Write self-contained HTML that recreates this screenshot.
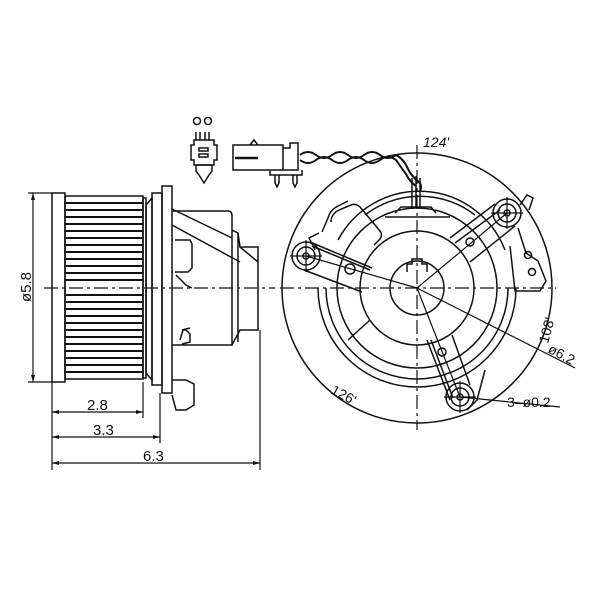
<!DOCTYPE html>
<html><head><meta charset="utf-8"><style>
html,body{margin:0;padding:0;background:#fff;}
svg{display:block;}
text{font-family:"Liberation Sans",sans-serif;fill:#111;}
</style></head><body>
<svg width="600" height="600" viewBox="0 0 600 600" xmlns="http://www.w3.org/2000/svg">
<g fill="none" stroke="#111" stroke-width="1.5">
<!-- ===== LEFT SIDE VIEW ===== -->
<rect x="52" y="193" width="13" height="189"/>
<rect x="65" y="196" width="78" height="183"/>
<g stroke-width="2">
<line x1="65" y1="203" x2="143" y2="203"/><line x1="65" y1="210" x2="143" y2="210"/>
<line x1="65" y1="217" x2="143" y2="217"/><line x1="65" y1="224" x2="143" y2="224"/>
<line x1="65" y1="231" x2="143" y2="231"/><line x1="65" y1="238" x2="143" y2="238"/>
<line x1="65" y1="245" x2="143" y2="245"/><line x1="65" y1="252" x2="143" y2="252"/>
<line x1="65" y1="259" x2="143" y2="259"/><line x1="65" y1="266" x2="143" y2="266"/>
<line x1="65" y1="273" x2="143" y2="273"/><line x1="65" y1="280" x2="143" y2="280"/>
<line x1="65" y1="295" x2="143" y2="295"/><line x1="65" y1="302" x2="143" y2="302"/>
<line x1="65" y1="309" x2="143" y2="309"/><line x1="65" y1="316" x2="143" y2="316"/>
<line x1="65" y1="323" x2="143" y2="323"/><line x1="65" y1="330" x2="143" y2="330"/>
<line x1="65" y1="337" x2="143" y2="337"/><line x1="65" y1="344" x2="143" y2="344"/>
<line x1="65" y1="351" x2="143" y2="351"/><line x1="65" y1="358" x2="143" y2="358"/>
<line x1="65" y1="365" x2="143" y2="365"/><line x1="65" y1="372" x2="143" y2="372"/>
</g>
<rect x="143" y="198" width="3" height="180"/>
<path d="M146 205 L152 198 L152 380 L146 373 Z"/>
<rect x="152" y="193" width="10" height="192"/>
<rect x="162" y="186" width="10" height="207"/>
<path d="M172 211 L228 211 Q232 211 232 216 L232 230 L238 233 L240 247 L258 247 L258 330 L240 330 L232 345 L172 345"/>
<line x1="232" y1="230" x2="232" y2="345"/>
<line x1="238" y1="233" x2="238" y2="342"/>
<path d="M172 225 L240 262"/>
<path d="M172 209 L232 238"/>
<path d="M240 247 L258 262"/>
<path d="M175 240 L190 240 L192 244 L192 268 L188 272 L175 272"/>
<path d="M176 275 L186 285 L192 288"/>
<path d="M182 330 L190 328 M180 340 L183 330 L186 330 L190 334 L190 342 L182 344"/>
<path d="M172 380 L186 380 L194 384 L194 405 L186 410 L176 410 L172 395"/>
<line x1="44" y1="288" x2="275" y2="288" stroke-dasharray="14 4 3 4" stroke-width="1.3"/>
<g stroke-width="1.2">
<line x1="33" y1="193" x2="33" y2="382"/>
<line x1="28" y1="193" x2="52" y2="193"/>
<line x1="28" y1="382" x2="52" y2="382"/>
<line x1="52" y1="382" x2="52" y2="470"/>
<line x1="143" y1="382" x2="143" y2="418"/>
<line x1="160" y1="393" x2="160" y2="443"/>
<line x1="260" y1="330" x2="260" y2="470"/>
<line x1="52" y1="412" x2="143" y2="412"/>
<line x1="52" y1="437" x2="160" y2="437"/>
<line x1="52" y1="463" x2="260" y2="463"/>
</g>
</g>
<g fill="#111">
<path d="M33 193 l-2 7 h4z"/><path d="M33 382 l-2 -7 h4z"/>
<path d="M52 412 l7 -2 v4z"/><path d="M143 412 l-7 -2 v4z"/>
<path d="M52 437 l7 -2 v4z"/><path d="M160 437 l-7 -2 v4z"/>
<path d="M52 463 l7 -2 v4z"/><path d="M260 463 l-7 -2 v4z"/>
</g>
<text x="0" y="0" font-size="15" transform="translate(31 302) rotate(-90)">ø5.8</text>
<text x="87" y="410" font-size="15">2.8</text>
<text x="93" y="435" font-size="15">3.3</text>
<text x="143" y="461" font-size="15">6.3</text>

<!-- ===== CONNECTORS ===== -->
<g fill="none" stroke="#111" stroke-width="1.5">
<circle cx="197" cy="121" r="3.5"/><circle cx="208" cy="121" r="3.5"/>
<path d="M196 132 v8 M200 132 v8 M205 132 v8 M209 132 v8"/>
<path d="M194 140 h20 v5 h3 v15 h-3 v5 h-20 v-5 h-3 v-15 h3 z"/>
<rect x="199" y="148" width="9" height="3"/><rect x="199" y="154" width="9" height="3"/>
<path d="M196 165 h16 v6 l-3 4 l-5 8 l-5 -8 l-3 -4 z"/>
<path d="M233 145 h50 v25 h-50 z"/>
<path d="M250 145 l4 -5 l4 5"/>
<line x1="235" y1="158" x2="258" y2="158" stroke-width="2.5"/>
<path d="M283 148 h7 v-5 h8 v27 h-15"/>
<path d="M270 170 v5 h32 v-5"/>
<path d="M275 175 v8 l2 4 l2 -4 v-8 M293 175 v8 l2 4 l2 -4 v-8"/>
<path d="M300 155 q8 -6 16 0 q8 6 16 0 q8 -6 16 0 q8 6 16 0 q8 -6 16 0 q8 6 16 0 q8 4 12 14 q4 8 12 14 q2 4 0 8" stroke-width="2"/>
<path d="M300 160 q8 6 16 0 q8 -6 16 0 q8 6 16 0 q8 -6 16 0 q8 6 16 0 q8 -6 16 0 q4 6 10 14 q4 8 10 12" stroke-width="2"/>
<path d="M412 178 v30 M416 176 v32 M420 178 v30"/>

<!-- ===== RIGHT FRONT VIEW ===== -->
<circle cx="417" cy="288" r="135"/>
<circle cx="417" cy="288" r="27"/>
<circle cx="417" cy="288" r="57"/>
<circle cx="417" cy="288" r="80"/>
<path d="M326 288 A91 91 0 0 0 417 379 A91 91 0 0 0 508 288"/>
<path d="M318 288 A99 99 0 0 0 417 387 A99 99 0 0 0 516 288"/>
<path d="M338 240 A92 92 0 0 1 505 250"/>
<path d="M365 215 A90 90 0 0 1 475 215"/>
<path d="M407 272 v-8 h5 v-5 h10 v5 h5 v8"/>
<path d="M395 213 l6 -6 h30 l5 6 M385 217 h65"/>
<path d="M331 222 q0 -8 8 -12 l12 -5 q5 -2 9 2 l20 24 q3 4 0 8 l-6 6"/>
<path d="M322 232 l6 -14 q2 -8 10 -12 l10 -5"/>
<path d="M315 250 l-6 -12 l10 -5"/>
<circle cx="306" cy="256" r="14"/><circle cx="306" cy="256" r="9"/><circle cx="306" cy="256" r="3"/>
<circle cx="350" cy="269" r="5"/>
<path d="M310 242 L372 268 M304 270 L362 292 M312 246 L370 270" />
<circle cx="507" cy="213" r="14"/><circle cx="507" cy="213" r="9"/><circle cx="507" cy="213" r="3"/>
<circle cx="470" cy="242" r="4"/>
<path d="M495 204 L450 238 M515 226 L470 262 M500 210 L455 243"/>
<path d="M520 205 l7 -10 l6 3 l-4 12"/>
<path d="M518 228 l8 25 l12 8 l8 20 l-6 10 h-25 l-5 -45"/>
<circle cx="528" cy="255" r="3.5"/><circle cx="532" cy="272" r="3.5"/>
<circle cx="460" cy="397" r="14"/><circle cx="460" cy="397" r="9"/><circle cx="460" cy="397" r="3"/>
<circle cx="442" cy="352" r="4"/>
<path d="M427 340 L450 400 M452 335 L470 385 M431 340 L453 398"/>
<path d="M485 370 l-8 30 l-10 10"/>
<path d="M348 340 L370 320"/>
</g>
<g stroke="#111" stroke-width="1.2" fill="none">
<line x1="280" y1="288" x2="556" y2="288" stroke-dasharray="14 4 3 4"/>
<line x1="417" y1="145" x2="417" y2="430" stroke-dasharray="14 4 3 4"/>
<line x1="417" y1="288" x2="306" y2="256"/>
<line x1="417" y1="288" x2="507" y2="213"/>
<line x1="417" y1="288" x2="460" y2="397"/>
<line x1="290" y1="256" x2="322" y2="256"/><line x1="306" y1="240" x2="306" y2="272"/>
<line x1="491" y1="213" x2="523" y2="213"/><line x1="507" y1="197" x2="507" y2="229"/>
<line x1="444" y1="397" x2="476" y2="397"/><line x1="460" y1="381" x2="460" y2="413"/>
<line x1="417" y1="288" x2="575" y2="368"/>
<line x1="460" y1="397" x2="560" y2="407"/>
</g>
<text x="423" y="147" font-size="14" font-style="italic">124'</text>
<text x="0" y="0" font-size="14" transform="translate(330 393) rotate(28)">126'</text>
<text x="0" y="0" font-size="14" transform="translate(548 344) rotate(-75)">108'</text>
<text x="0" y="0" font-size="14" transform="translate(547 352) rotate(28)">ø6.2</text>
<text x="507" y="407" font-size="14">3–ø0.2</text>
</svg>
</body></html>
